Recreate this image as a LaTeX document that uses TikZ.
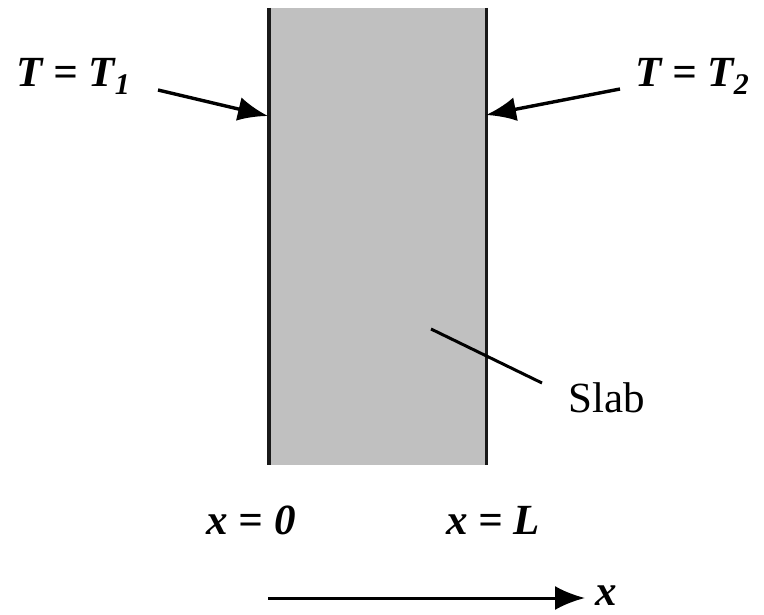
\documentclass[tikz,border=0pt]{standalone}
\usepackage{fontspec}
\setmainfont{Liberation Serif}
\usetikzlibrary{arrows.meta}
\begin{document}
\begin{tikzpicture}[x=1pt,y=-1pt,
  lbl/.style={inner sep=0pt, font=\fontsize{43}{48}\selectfont\bfseries\itshape},
  slablbl/.style={inner sep=0pt, font=\fontsize{43}{48}\selectfont},
  wall/.style={line width=3.8pt, draw=black!90},
  bigarrow/.style={line width=3.4pt, -{Latex[length=30pt,width=24pt]}},
  leader/.style={line width=3pt}]
\useasboundingbox (0,0) rectangle (764,615);
% slab
\node[fill={rgb,255:red,192;green,192;blue,192}, minimum width=217pt, minimum height=457pt, inner sep=0pt, anchor=north west] (slab) at (269,8) {};
\draw[wall] (slab.north west) -- (slab.south west);
\draw[wall] (slab.north east) -- (slab.south east);
% boundary labels
\node[lbl] (t1) at (73,76) {T = T\raisebox{-8pt}{\fontsize{30}{34}\selectfont 1}};
\node[lbl] (t2) at (692,76) {T = T\raisebox{-8pt}{\fontsize{30}{34}\selectfont 2}};
\coordinate (t1tail) at (158,90);
\coordinate (t1tip) at (268,116);
\coordinate (t2tail) at (620,89);
\coordinate (t2tip) at (486,115);
\draw[bigarrow] (t1tail) -- (t1tip);
\draw[bigarrow] (t2tail) -- (t2tip);
% slab leader
\node[slablbl] (slabtxt) at (607,398) {Slab};
\coordinate (ls) at (431,329);
\coordinate (le) at (542,383);
\draw[leader] (ls) -- (le);
% positions
\node[lbl] (x0) at (251,520) {x = 0};
\node[lbl] (xL) at (493,520) {x = L};
% axis
\node[lbl] (xax) at (606,596) {x};
\coordinate (axs) at (268,598);
\coordinate (axe) at (585,598);
\draw[line width=3pt, -{Latex[length=30pt,width=24pt]}] (axs) -- (axe);
\end{tikzpicture}
\end{document}
